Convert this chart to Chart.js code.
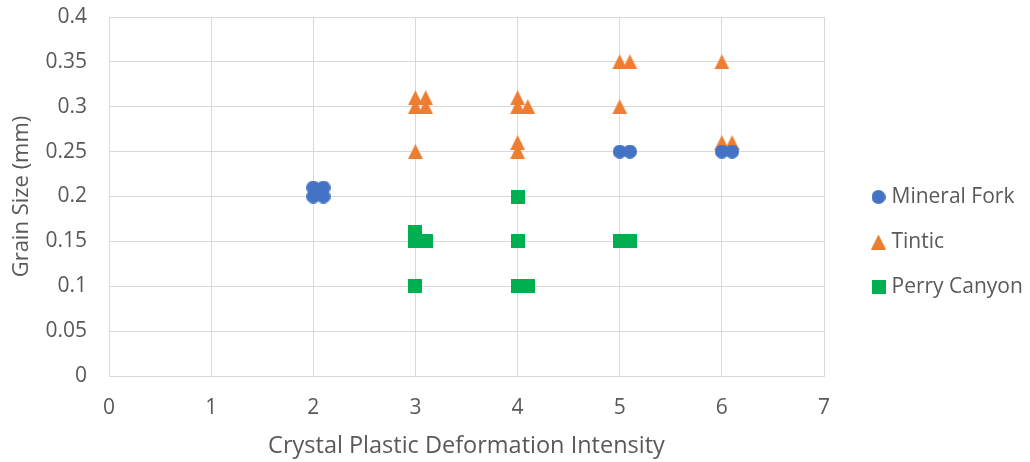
<!DOCTYPE html>
<html><head><meta charset="utf-8">
<script src="https://cdn.jsdelivr.net/npm/chart.js@4"></script>
<style>html,body{margin:0;padding:0;background:#fff}#wrap{width:1030px;height:462px}</style>
</head><body><div id="wrap"><canvas id="c" width="1030" height="462"></canvas></div>
<script>
const seriesNames = ["Mineral Fork", "Tintic", "Perry Canyon"];
const mineralForkX = [2, 2, 2.1, 2.1, 5, 5.1, 6, 6.1];
const mineralForkY = [0.2, 0.21, 0.2, 0.21, 0.25, 0.25, 0.25, 0.25];
const tinticX = [3, 3, 3.1, 3.1, 3, 4, 4, 4.1, 4, 4, 5, 5.1, 5, 6, 6, 6.1];
const tinticY = [0.3, 0.31, 0.3, 0.31, 0.25, 0.31, 0.3, 0.3, 0.26, 0.25, 0.35, 0.35, 0.3, 0.35, 0.26, 0.26];
const perryX = [3, 3, 3.1, 3, 4, 4, 4, 4.1, 5, 5.1];
const perryY = [0.16, 0.15, 0.15, 0.1, 0.2, 0.15, 0.1, 0.1, 0.15, 0.15];
const xTitle = "Crystal Plastic Deformation Intensity";
const yTitle = "Grain Size (mm)";

function pts(xs, ys){ return xs.map((x,i)=>({x:x, y:ys[i]})); }
function marker(shape, color, s){
  const c = document.createElement('canvas'); c.width = s; c.height = s;
  const g = c.getContext('2d'); g.fillStyle = color; g.beginPath();
  if (shape === 'tri'){ g.moveTo(s/2,0); g.lineTo(s,s); g.lineTo(0,s); g.closePath(); }
  else if (shape === 'circle'){ g.arc(s/2, s/2, s/2, 0, Math.PI*2); }
  else { g.rect(0,0,s,s); }
  g.fill(); return c;
}
const FONT = "'Open Sans', sans-serif";
const grid = '#d9d9d9', txt = '#595959';
const layoutFix = {
  id: 'layoutFix',
  afterInit(chart){
    const L = chart.legend; const orig = L.fit.bind(L);
    L.fit = function(){ orig(); this.width = 206; };
  },
  afterLayout(chart){
    const L = chart.legend; const w = L.width;
    L.left = 852; L.right = L.left + w;
    L.top = 22; L.bottom = 462; L.height = L.bottom - L.top;
  }
};
new Chart(document.getElementById('c'), {
  type: 'scatter',
  plugins: [layoutFix],
  data: { datasets: [
    { label: seriesNames[0], data: pts(mineralForkX, mineralForkY), pointStyle: marker('circle', '#4472C4', 14), backgroundColor: '#4472C4', borderColor: '#4472C4', borderWidth: 0 },
    { label: seriesNames[1], data: pts(tinticX, tinticY), pointStyle: marker('tri', '#ED7D31', 15), backgroundColor: '#ED7D31', borderColor: '#ED7D31', borderWidth: 0 },
    { label: seriesNames[2], data: pts(perryX, perryY), pointStyle: marker('rect', '#00B050', 14), backgroundColor: '#00B050', borderColor: '#00B050', borderWidth: 0 }
  ]},
  options: {
    responsive: false, animation: false,
    layout: { padding: { top: 17, left: 0, right: 0, bottom: 0 } },
    plugins: {
      tooltip: { enabled: false },
      legend: { position: 'right', labels: { usePointStyle: true, boxWidth: 5, font: { family: FONT, size: 21 }, color: txt, padding: 24 } }
    },
    scales: {
      x: { type: 'linear', min: 0, max: 7, afterFit: s => { s.height = 86; s.paddingLeft = 0; s.paddingRight = 0; },
           ticks: { stepSize: 1, color: txt, font: { family: FONT, size: 21 }, padding: 19 },
           grid: { color: grid, drawTicks: false }, border: { color: grid },
           title: { display: true, text: xTitle, color: txt, font: { family: FONT, size: 23.5 }, padding: { top: 0, bottom: 2 } } },
      y: { type: 'linear', min: 0, max: 0.4, afterFit: s => { s.width = 109; s.paddingTop = 0; s.paddingBottom = 0; },
           ticks: { stepSize: 0.05, color: txt, font: { family: FONT, size: 21 }, padding: 22, callback: v => +v.toFixed(2) },
           grid: { color: grid, drawTicks: false }, border: { color: grid },
           title: { display: true, text: yTitle, color: txt, font: { family: FONT, size: 22 }, padding: { top: 8.8, bottom: 0 } } }
    }
  }
});
</script></body></html>
